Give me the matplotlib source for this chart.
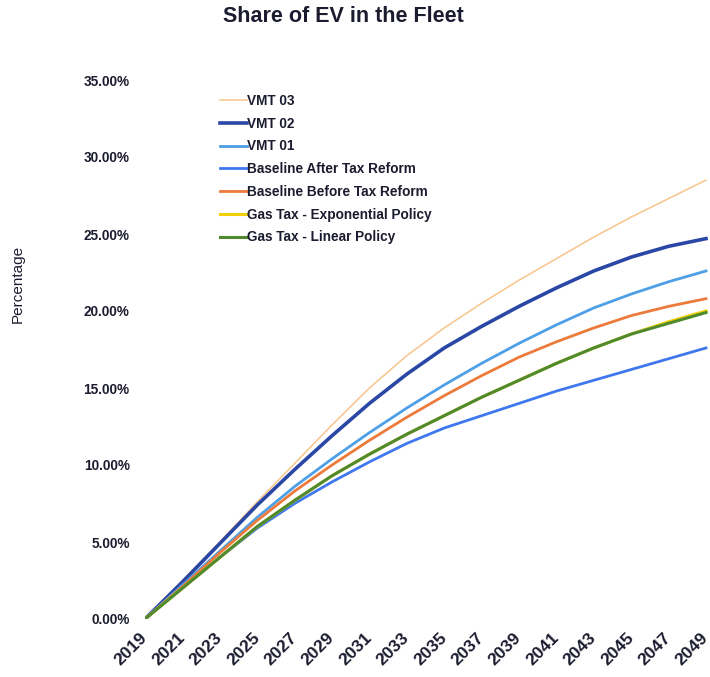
import matplotlib.pyplot as plt
from matplotlib.ticker import FuncFormatter
from matplotlib.transforms import ScaledTranslation

plt.rcParams['font.family'] = ['Liberation Sans', 'DejaVu Sans']

# share of EV in the fleet, percent, every 2 years
years = [2019, 2021, 2023, 2025, 2027, 2029, 2031, 2033, 2035, 2037, 2039, 2041, 2043, 2045, 2047, 2049]
vmt03 = [0, 2.5, 5.0, 7.6, 10.1, 12.6, 15.0, 17.1, 18.9, 20.5, 22.0, 23.4, 24.8, 26.1, 27.3, 28.5]
vmt02 = [0, 2.4, 4.9, 7.4, 9.7, 11.9, 14.0, 15.9, 17.6, 19.0, 20.3, 21.5, 22.6, 23.5, 24.2, 24.7]
vmt01 = [0, 2.2, 4.4, 6.6, 8.6, 10.4, 12.1, 13.7, 15.2, 16.6, 17.9, 19.1, 20.2, 21.1, 21.9, 22.6]
after_reform = [0, 2.0, 4.0, 5.9, 7.5, 8.9, 10.2, 11.4, 12.4, 13.2, 14.0, 14.8, 15.5, 16.2, 16.9, 17.6]
before_reform = [0, 2.1, 4.3, 6.4, 8.3, 10.0, 11.6, 13.1, 14.5, 15.8, 17.0, 18.0, 18.9, 19.7, 20.3, 20.8]
gas_exp = [0, 2.0, 4.0, 6.0, 7.7, 9.3, 10.7, 12.0, 13.2, 14.4, 15.5, 16.6, 17.6, 18.5, 19.3, 20.0]
gas_lin = [0, 2.0, 4.0, 6.0, 7.7, 9.3, 10.7, 12.0, 13.2, 14.4, 15.5, 16.6, 17.6, 18.5, 19.2, 19.9]

year_ticks = list(range(2019, 2050, 2))
pct_ticks = [0, 5, 10, 15, 20, 25, 30, 35]

fig = plt.figure(figsize=(7.10, 6.77), dpi=100)
ax = fig.add_axes([145 / 710, 1 - 619 / 677, 565 / 710, 539 / 677])

txt = '#1c1c30'
ax.plot(years, vmt03, color='#f8c894', lw=1.2, label='VMT 03')
ax.plot(years, vmt02, color='#2a47a6', lw=2.6, label='VMT 02')
ax.plot(years, vmt01, color='#4d9fe6', lw=2.0, label='VMT 01')
ax.plot(years, after_reform, color='#3f78ee', lw=2.0, label='Baseline After Tax Reform')
ax.plot(years, before_reform, color='#ec7b3b', lw=2.0, label='Baseline Before Tax Reform')
ax.plot(years, gas_exp, color='#f2d000', lw=2.2, label='Gas Tax - Exponential Policy')
ax.plot(years, gas_lin, color='#4f8a30', lw=2.2, label='Gas Tax - Linear Policy')

ax.set_xlim(2019, 2019 + 565 / 18.7)
ax.set_ylim(0, 35)
ax.set_xticks(year_ticks)
ax.set_xticklabels([str(y) for y in year_ticks], rotation=45, ha='right', va='center',
                   rotation_mode='anchor', fontsize=12.5, fontweight='bold', color=txt)
# nudge the rotated year labels a little to the left
shift = ScaledTranslation(-5 / 100, 0, fig.dpi_scale_trans)
for lbl in ax.get_xticklabels():
    lbl.set_transform(lbl.get_transform() + shift)
ax.set_yticks(pct_ticks)
ax.yaxis.set_major_formatter(FuncFormatter(lambda v, p: f'{v:.2f}%'))
ax.tick_params(axis='y', labelsize=9.8, labelcolor=txt, length=0, pad=11)
for lbl in ax.get_yticklabels():
    lbl.set_fontweight('bold')
ax.tick_params(axis='x', length=0, pad=12)
for s in ax.spines.values():
    s.set_visible(False)

fig.text(343 / 710, 1 - 16 / 677, 'Share of EV in the Fleet', ha='center', va='center',
         fontsize=15.5, fontweight='bold', color=txt)
fig.text(18 / 710, 1 - 284 / 677, 'Percentage', rotation=90, ha='center', va='center',
         fontsize=11, color=txt)

fig.legend(loc='upper left', bbox_to_anchor=(220 / 710, 1 - 94 / 677), frameon=False,
           prop={'size': 9.8, 'weight': 'bold'}, handlelength=2.0, handletextpad=0.0,
           labelspacing=0.64, borderpad=0, borderaxespad=0, labelcolor=txt)

fig.savefig('out.png', dpi=100)
